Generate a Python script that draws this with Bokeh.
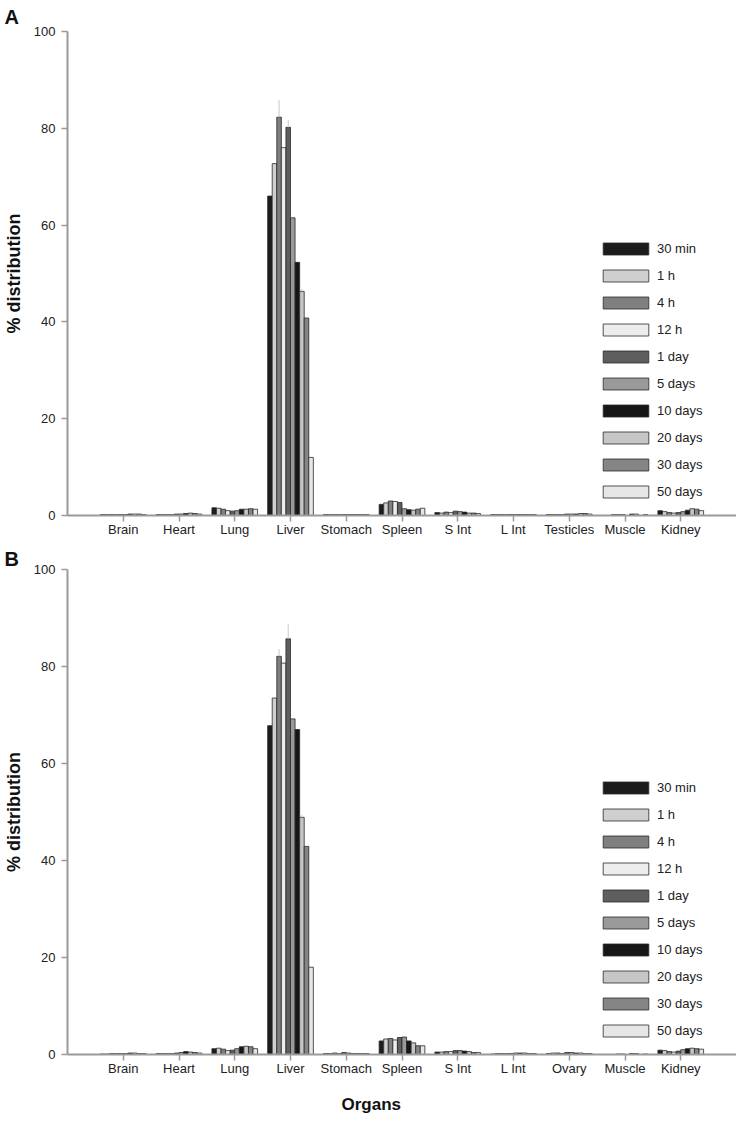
import numpy as np
from bokeh.plotting import figure
from bokeh.layouts import column
from bokeh.models import ColumnDataSource, FixedTicker, Legend, LegendItem, Range1d, Title
from bokeh.embed import file_html
from bokeh.resources import INLINE

# ---------------- data ----------------
time_labels = ["30 min", "1 h", "4 h", "12 h", "1 day", "5 days", "10 days", "20 days", "30 days", "50 days"]
organs_a = ["Brain", "Heart", "Lung", "Liver", "Stomach", "Spleen", "S Int", "L Int", "Testicles", "Muscle", "Kidney"]
organs_b = ["Brain", "Heart", "Lung", "Liver", "Stomach", "Spleen", "S Int", "L Int", "Ovary", "Muscle", "Kidney"]

# Panel A: % distribution per organ, one value per time point
a_brain = [0.2, 0.2, 0.2, 0.2, 0.2, 0.2, 0.3, 0.3, 0.3, 0.2]
a_heart = [0.2, 0.2, 0.2, 0.2, 0.3, 0.3, 0.4, 0.5, 0.4, 0.3]
a_lung = [1.6, 1.5, 1.3, 1.0, 0.9, 1.0, 1.3, 1.3, 1.4, 1.3]
a_liver = [66.0, 72.7, 82.3, 76.0, 80.2, 61.5, 52.3, 46.3, 40.8, 12.0]
a_stomach = [0.2, 0.2, 0.2, 0.2, 0.2, 0.2, 0.2, 0.2, 0.2, 0.2]
a_spleen = [2.3, 2.6, 3.0, 2.9, 2.7, 1.4, 1.2, 1.1, 1.3, 1.5]
a_sint = [0.6, 0.5, 0.7, 0.6, 0.9, 0.8, 0.7, 0.5, 0.5, 0.4]
a_lint = [0.2, 0.2, 0.2, 0.2, 0.2, 0.2, 0.2, 0.2, 0.2, 0.2]
a_testicles = [0.2, 0.2, 0.2, 0.2, 0.3, 0.3, 0.3, 0.4, 0.4, 0.3]
a_muscle = [0.0, 0.0, 0.2, 0.2, 0.2, 0.0, 0.3, 0.3, 0.0, 0.2]
a_kidney = [1.0, 0.8, 0.6, 0.5, 0.6, 0.8, 1.1, 1.4, 1.3, 1.0]
a_liver_err = [0.0, 0.0, 3.5, 0.0, 1.5, 0.0, 0.0, 0.5, 0.0, 0.0]

# Panel B
b_brain = [0.1, 0.1, 0.2, 0.2, 0.2, 0.2, 0.3, 0.3, 0.2, 0.2]
b_heart = [0.2, 0.2, 0.2, 0.2, 0.3, 0.4, 0.6, 0.5, 0.4, 0.3]
b_lung = [1.2, 1.3, 1.1, 0.8, 0.9, 1.2, 1.6, 1.7, 1.6, 1.2]
b_liver = [67.8, 73.5, 82.1, 80.7, 85.7, 69.2, 67.0, 48.9, 42.9, 18.0]
b_stomach = [0.2, 0.2, 0.3, 0.2, 0.4, 0.3, 0.2, 0.2, 0.2, 0.2]
b_spleen = [2.8, 3.2, 3.3, 3.0, 3.5, 3.6, 2.8, 2.4, 1.8, 1.8]
b_sint = [0.5, 0.5, 0.6, 0.6, 0.8, 0.8, 0.7, 0.6, 0.4, 0.4]
b_lint = [0.1, 0.2, 0.2, 0.2, 0.2, 0.3, 0.3, 0.3, 0.2, 0.2]
b_ovary = [0.2, 0.3, 0.3, 0.2, 0.4, 0.4, 0.3, 0.3, 0.2, 0.2]
b_muscle = [0.0, 0.0, 0.0, 0.1, 0.1, 0.0, 0.2, 0.2, 0.0, 0.1]
b_kidney = [0.9, 0.8, 0.6, 0.5, 0.7, 1.0, 1.2, 1.3, 1.2, 1.1]
b_liver_err = [0.0, 0.0, 1.5, 0.0, 3.0, 0.0, 0.0, 0.5, 0.0, 0.0]

y_ticks = [0, 20, 40, 60, 80, 100]

# ---------------- styling ----------------
FONT = "Liberation Sans"
fills = ["#1c1c1c", "#cfcfcf", "#7f7f7f", "#ededed", "#5e5e5e",
         "#9a9a9a", "#161616", "#c6c6c6", "#858585", "#e6e6e6"]
BAR_W = 0.082


def make_panel(organs, rows, liver_err, letter, height, top, bottom, letter_standoff):
    p = figure(width=736, height=height, output_backend="svg", toolbar_location=None,
               x_range=Range1d(0, 12), y_range=Range1d(0, 100),
               min_border_left=64, min_border_right=0,
               min_border_top=top, min_border_bottom=bottom)
    p.outline_line_color = None
    p.grid.visible = False
    p.background_fill_color = "white"

    p.title.text = letter
    p.title.align = "left"
    p.title.offset = -63
    p.title.standoff = letter_standoff
    p.title.text_font = FONT
    p.title.text_font_style = "bold"
    p.title.text_font_size = "20px"
    p.title.text_color = "#111111"

    vals = np.array(rows)  # organs x times
    xs = np.arange(1, len(organs) + 1)
    items = []
    for i, lab in enumerate(time_labels):
        off = (i - 4.5) * BAR_W
        src = ColumnDataSource(dict(x=xs + off, top=vals[:, i]))
        r = p.vbar(x="x", top="top", width=BAR_W, bottom=0, source=src,
                   fill_color=fills[i], line_color="#2a2a2a", line_width=0.8)
        items.append(LegendItem(label=lab, renderers=[r]))

    # error bars on liver
    liver_idx = organs.index("Liver")
    ex, ey0, ey1 = [], [], []
    for i in range(len(time_labels)):
        if liver_err[i] > 0:
            ex.append(liver_idx + 1 + (i - 4.5) * BAR_W)
            ey0.append(vals[liver_idx, i])
            ey1.append(vals[liver_idx, i] + liver_err[i])
    p.segment(x0=ex, y0=ey0, x1=ex, y1=ey1, line_color="#c8c8c8", line_width=1)

    legend = Legend(items=items, location=(530, 16))
    legend.glyph_width = 57
    legend.glyph_height = 15
    legend.label_height = 15
    legend.spacing = 12
    legend.padding = 0
    legend.margin = 0
    legend.label_standoff = 3
    legend.label_text_font = FONT
    legend.label_text_font_size = "13px"
    legend.label_text_color = "#222222"
    legend.border_line_color = None
    legend.background_fill_alpha = 0
    p.add_layout(legend, "center")

    # axes
    xa = p.xaxis[0]
    xa.ticker = FixedTicker(ticks=list(xs))
    xa.major_label_overrides = {int(k): n for k, n in zip(xs, organs)}
    xa.minor_tick_line_color = None
    xa.major_tick_in = 0
    xa.major_tick_out = 6
    xa.axis_line_color = "#9a9a9a"
    xa.axis_line_width = 2
    xa.major_tick_line_color = "#9a9a9a"
    xa.major_tick_line_width = 1.5
    xa.major_label_text_font = FONT
    xa.major_label_text_font_size = "13px"
    xa.major_label_text_color = "#222222"
    xa.major_label_standoff = 0

    ya = p.yaxis[0]
    ya.ticker = FixedTicker(ticks=y_ticks)
    ya.minor_tick_line_color = None
    ya.major_tick_in = 0
    ya.major_tick_out = 6
    ya.axis_line_color = "#9a9a9a"
    ya.axis_line_width = 2
    ya.major_tick_line_color = "#9a9a9a"
    ya.major_tick_line_width = 1.5
    ya.major_label_text_font = FONT
    ya.major_label_text_font_size = "13px"
    ya.major_label_text_color = "#222222"
    ya.major_label_standoff = 6
    ya.axis_label = "% distribution"
    ya.axis_label_text_font = FONT
    ya.axis_label_text_font_style = "bold"
    ya.axis_label_text_font_size = "18px"
    ya.axis_label_text_color = "#111111"
    ya.axis_label_standoff = 7
    return p


p_a = make_panel(organs_a,
                 [a_brain, a_heart, a_lung, a_liver, a_stomach, a_spleen, a_sint, a_lint, a_testicles, a_muscle, a_kidney],
                 a_liver_err, "A", 542, 31, 27, 7)
p_b = make_panel(organs_b,
                 [b_brain, b_heart, b_lung, b_liver, b_stomach, b_spleen, b_sint, b_lint, b_ovary, b_muscle, b_kidney],
                 b_liver_err, "B", 585, 27, 73, 0)

organs_title = Title(text="Organs", align="left", offset=274, standoff=28,
                     text_font=FONT, text_font_style="bold", text_font_size="17px",
                     text_color="#111111")
p_b.add_layout(organs_title, "below")

layout = column(p_a, p_b, spacing=0)
open("out.html", "w").write(file_html(layout, INLINE))
